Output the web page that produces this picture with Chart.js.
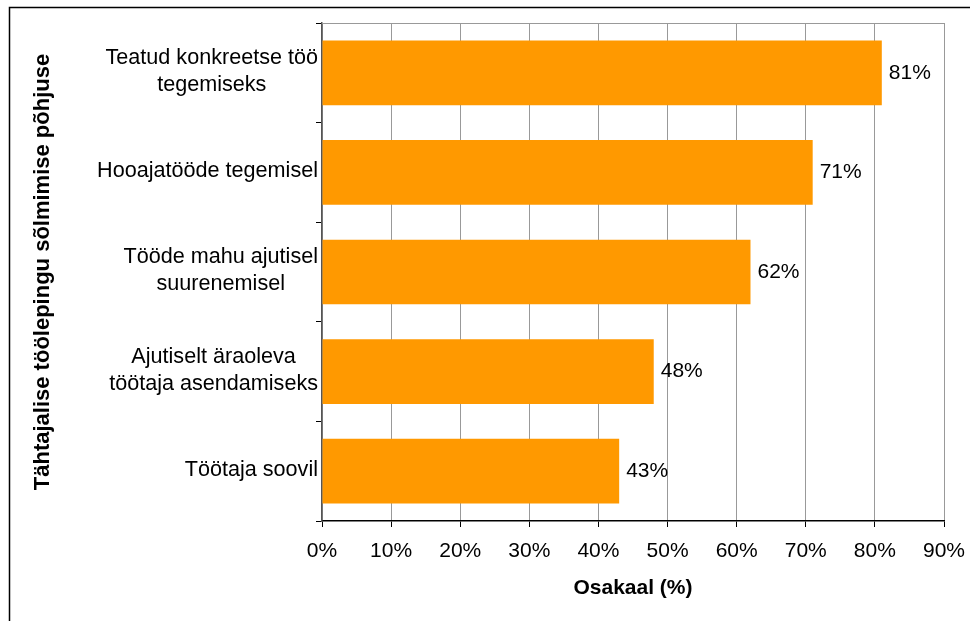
<!DOCTYPE html>
<html>
<head>
<meta charset="utf-8">
<script src="https://cdn.jsdelivr.net/npm/chart.js@4/dist/chart.umd.min.js"></script>
<style>
  html, body { margin: 0; padding: 0; background: #fff; overflow: hidden; }
  #wrap { position: relative; width: 970px; height: 621px; }
</style>
</head>
<body>
<div id="wrap"><canvas id="c" width="970" height="621"></canvas></div>
<script>
// Reasons for concluding a fixed-term employment contract
const categories = [
  ['Teatud konkreetse töö', 'tegemiseks'],
  ['Hooajatööde tegemisel'],
  ['Tööde mahu ajutisel', 'suurenemisel'],
  ['Ajutiselt äraoleva', 'töötaja asendamiseks'],
  ['Töötaja soovil']
];
const shares = [81, 71, 62, 48, 43];
const xTicks = [0, 10, 20, 30, 40, 50, 60, 70, 80, 90];
const xTitle = 'Osakaal (%)';
const yTitle = 'Tähtajalise töölepingu sõlmimise põhjuse';

const FONT = '"Liberation Sans", Arial, sans-serif';
const BAR = '#FF9900';

// outer frame of the figure
const framePlugin = {
  id: 'frame',
  beforeDraw(chart) {
    const ctx = chart.ctx;
    ctx.save();
    ctx.strokeStyle = '#000';
    ctx.lineWidth = 1.5;
    ctx.beginPath();
    ctx.moveTo(9.5, chart.height + 2);
    ctx.lineTo(9.5, 7.5);
    ctx.lineTo(chart.width + 2, 7.5);
    ctx.stroke();
    ctx.restore();
  }
};

// top edge of the plot area
const plotBorderPlugin = {
  id: 'plotBorder',
  beforeDatasetsDraw(chart) {
    const {ctx, chartArea} = chart;
    ctx.save();
    ctx.strokeStyle = '#999';
    ctx.lineWidth = 1;
    ctx.beginPath();
    ctx.moveTo(chartArea.left, Math.round(chartArea.top) + 0.5);
    ctx.lineTo(chartArea.right, Math.round(chartArea.top) + 0.5);
    ctx.stroke();
    ctx.restore();
  }
};

// category labels: block right-aligned to the axis, lines centred in the block
const categoryLabelPlugin = {
  id: 'categoryLabels',
  afterDraw(chart) {
    const {ctx} = chart;
    const yScale = chart.scales.y;
    const lineGap = 27;
    ctx.save();
    ctx.font = '21.6px ' + FONT;
    ctx.fillStyle = '#000';
    ctx.textAlign = 'center';
    ctx.textBaseline = 'middle';
    categories.forEach((lines, i) => {
      const widest = Math.max(...lines.map(l => ctx.measureText(l).width));
      const cx = yScale.right - 4 - widest / 2;
      const cy = yScale.getPixelForValue(i);
      const y0 = cy - (lines.length - 1) * lineGap / 2;
      lines.forEach((l, k) => ctx.fillText(l, cx, y0 + k * lineGap - 1));
    });
    ctx.restore();
  }
};

// value labels to the right of each bar
const valueLabelPlugin = {
  id: 'valueLabels',
  afterDatasetsDraw(chart) {
    const {ctx} = chart;
    const meta = chart.getDatasetMeta(0);
    ctx.save();
    ctx.font = '21px ' + FONT;
    ctx.fillStyle = '#000';
    ctx.textAlign = 'left';
    ctx.textBaseline = 'middle';
    meta.data.forEach((bar, i) => {
      ctx.fillText(shares[i] + '%', bar.x + 7, bar.y);
    });
    ctx.restore();
  }
};

new Chart(document.getElementById('c'), {
  type: 'bar',
  data: {
    labels: categories,
    datasets: [{
      data: shares,
      backgroundColor: BAR,
      borderWidth: 0,
      categoryPercentage: 1.0,
      barPercentage: 0.65
    }]
  },
  plugins: [framePlugin, plotBorderPlugin, categoryLabelPlugin, valueLabelPlugin],
  options: {
    indexAxis: 'y',
    responsive: false,
    animation: false,
    layout: { padding: { top: 23, right: 26, left: 0, bottom: 0 } },
    plugins: {
      legend: { display: false },
      tooltip: { enabled: false }
    },
    scales: {
      x: {
        type: 'linear',
        min: 0,
        max: 90,
        afterBuildTicks(scale) {
          scale.ticks = xTicks.map(v => ({ value: v }));
        },
        afterFit(scale) {
          scale.height = 100;
          scale.paddingLeft = 0;
          scale.paddingRight = 0;
        },
        ticks: {
          color: '#000',
          font: { family: FONT, size: 21 },
          padding: 12,
          maxRotation: 0,
          callback: v => v + '%'
        },
        grid: {
          color: '#999',
          lineWidth: 1,
          tickColor: '#000',
          tickLength: 6
        },
        border: { color: '#000', width: 1.5 },
        title: {
          display: true,
          text: xTitle,
          color: '#000',
          font: { family: FONT, size: 21, weight: 'bold' },
          padding: { top: 0, bottom: 20 }
        }
      },
      y: {
        afterFit(scale) { scale.width = 322; },
        ticks: { display: false },
        grid: {
          offset: true,
          drawOnChartArea: false,
          tickColor: '#000',
          tickLength: 6
        },
        border: { color: '#555', width: 1.5 },
        title: {
          display: true,
          text: yTitle,
          color: '#000',
          font: { family: FONT, size: 22, weight: 'bold' },
          padding: { top: 30, bottom: 0 }
        }
      }
    }
  }
});
</script>
</body>
</html>
